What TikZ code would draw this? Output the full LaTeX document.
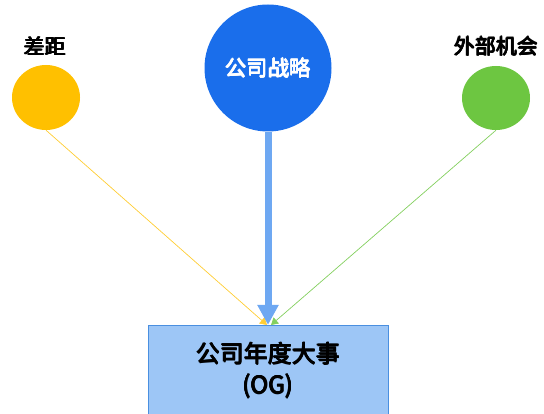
\documentclass[tikz,border=0pt]{standalone}
\usepackage{fontspec}
\newfontfamily\cjk{Noto Sans CJK SC}
\usetikzlibrary{arrows.meta,shapes.geometric}
\definecolor{cyel}{HTML}{FFC000}
\definecolor{cblue}{HTML}{1A6EEB}
\definecolor{cgreen}{HTML}{6DC641}
\definecolor{cbox}{HTML}{9DC6F6}
\definecolor{cboxline}{HTML}{4A8FE0}
\definecolor{carrow}{HTML}{6EA8F2}
\newcommand\fatt[1]{\rlap{#1}\rlap{\kern0.4pt#1}\rlap{\kern0.8pt#1}\rlap{\raisebox{0.4pt}{\kern0.4pt#1}}\rlap{\raisebox{-0.4pt}{\kern0.4pt#1}}\hphantom{#1}\kern0.8pt}
\tikzset{
  dot/.style={ellipse, inner sep=0pt, draw=none},
  lbl/.style={font=\cjk\fontsize{21}{24}\selectfont, text=black},
  thin link/.style={line width=0.7pt, -{Triangle[length=7pt,width=8pt]}},
}
\begin{document}
\begin{tikzpicture}[x=1pt,y=-1pt]
\useasboundingbox (0,0) rectangle (544,414);
\node[dot, fill=cyel, minimum width=68pt, minimum height=65pt] (gap) at (46,97.5) {};
\node[dot, fill=cgreen, minimum width=68pt, minimum height=64pt] (opp) at (496,98) {};
\node[circle, fill=cblue, minimum size=127pt, inner sep=0pt, font=\cjk\fontsize{21.5}{24}\selectfont, text=white] (str) at (268,68) {\fatt{公司战略}};
\node[lbl] (gapl) at (45,46) {\fatt{差距}};
\node[lbl] (oppl) at (496,46) {\fatt{外部机会}};
\node[draw=cboxline, line width=1pt, fill=cbox, minimum width=240pt, minimum height=90pt, anchor=north, align=center,
      font=\cjk\fontsize{24}{31}\selectfont] (og) at (268,325) {\fatt{公司年度大事}\\\fatt{(OG)}};
\draw[cyel!80, thin link] (gap.south) -- ([xshift=-1pt]og.north);
\draw[cgreen!85, thin link] (opp.south) -- ([xshift=3pt]og.north);
\draw[carrow, line width=7pt, -{Triangle[length=20pt,width=20pt]}] (str.south) -- (og.north);
\end{tikzpicture}
\end{document}
